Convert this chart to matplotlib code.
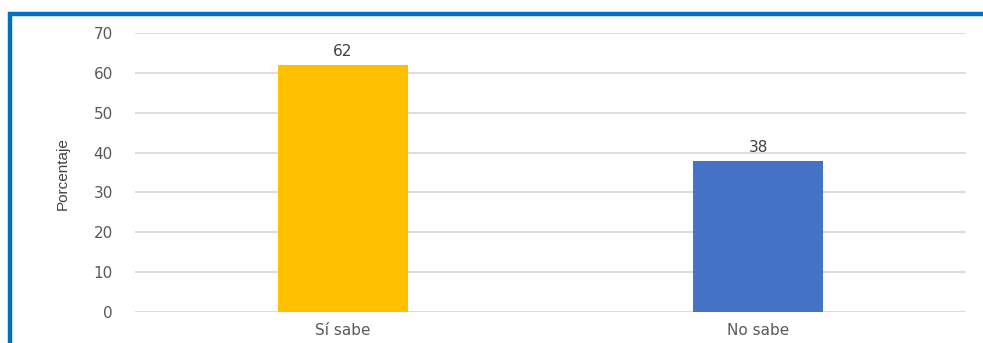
import matplotlib
matplotlib.use("Agg")
import matplotlib.pyplot as plt
from matplotlib.patches import Rectangle

categories = ["Sí sabe", "No sabe"]
values = [62, 38]
colors = ["#FFC000", "#4472C4"]
yticks = [0, 10, 20, 30, 40, 50, 60, 70]

W, H = 983, 343
fig = plt.figure(figsize=(W / 100, H / 100), dpi=100)
ax = fig.add_axes([135 / W, 1 - 312 / H, (966 - 135) / W, (312 - 33) / H])

x = range(len(categories))
bars = ax.bar(x, values, width=0.313, color=colors, zorder=3)
ax.set_xlim(-0.5, 1.5)
ax.set_ylim(0, 70)
ax.set_yticks(yticks)
ax.set_xticks(list(x))
ax.set_xticklabels(categories)
ax.grid(axis="y", color="#D9D9D9", linewidth=1.3, zorder=0)
for s in ax.spines.values():
    s.set_visible(False)
ax.tick_params(length=0, colors="#595959", labelsize=11)
ax.tick_params(axis="y", pad=16)
ax.tick_params(axis="x", pad=8)
for b, v in zip(bars, values):
    ax.annotate(str(v), (b.get_x() + b.get_width() / 2, v), xytext=(0, 4),
                textcoords="offset points", ha="center", va="bottom",
                fontsize=11, color="#404040")

fig.text(63 / W, 1 - 174 / H, "Porcentaje", rotation=90, ha="center", va="center",
         fontsize=11, color="#404040",
         family=["Liberation Sans Narrow", "Liberation Sans", "DejaVu Sans"])

fig.patches.append(Rectangle((10 / W, 1 - 360 / H), 1000 / W, (360 - 14.5) / H,
                             transform=fig.transFigure, fill=False,
                             edgecolor="#0070C0", linewidth=3.2))

fig.savefig("out.png", dpi=100)
